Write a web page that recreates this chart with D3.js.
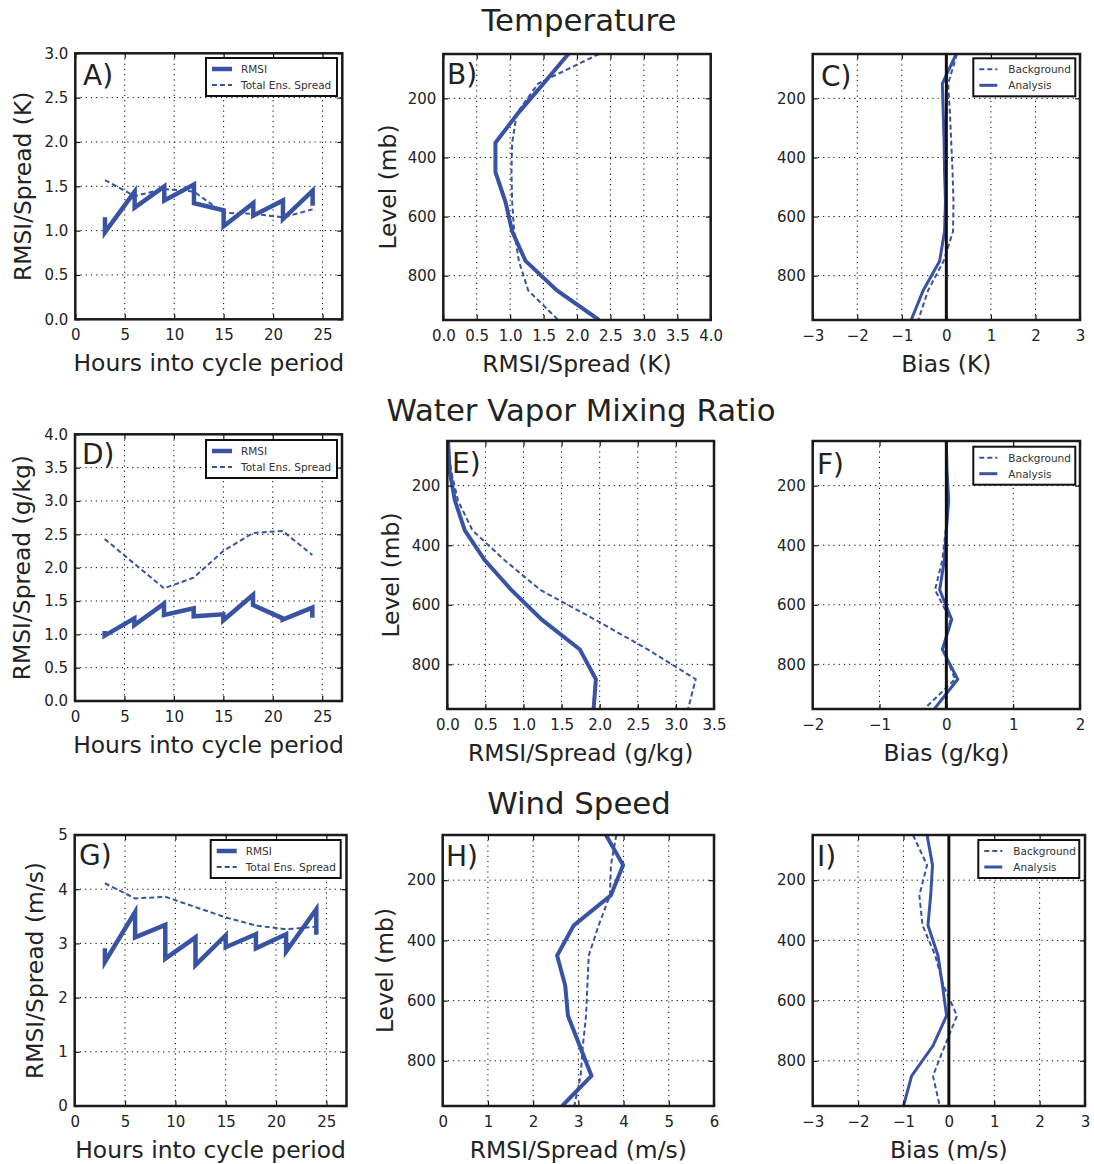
<!DOCTYPE html>
<html>
<head>
<meta charset="utf-8">
<script src="https://cdn.jsdelivr.net/npm/d3@7"></script>
<style>
  body { margin: 0; background: #fff; }
  svg { font-family: "DejaVu Sans", sans-serif; }
</style>
</head>
<body>
<svg id="fig" width="1094" height="1164"></svg>
<script>
// time series (hours into cycle), sawtooth: background then analysis at each time
const hours = [3, 3, 6, 6, 9, 9, 12, 12, 15, 15, 18, 18, 21, 21, 24, 24];
const spreadHours = [3, 6, 9, 12, 15, 18, 21, 24];

const tempRmsi = [1.15, 0.98, 1.44, 1.26, 1.50, 1.34, 1.52, 1.31, 1.23, 1.05, 1.31, 1.17, 1.34, 1.13, 1.45, 1.28];
const tempSpread = [1.57, 1.39, 1.47, 1.44, 1.20, 1.19, 1.15, 1.24];

const moistRmsi = [1.05, 0.98, 1.24, 1.14, 1.46, 1.29, 1.39, 1.27, 1.30, 1.21, 1.59, 1.44, 1.24, 1.22, 1.40, 1.25];
const moistSpread = [2.43, 2.06, 1.69, 1.85, 2.25, 2.52, 2.55, 2.19];

const windRmsi = [2.91, 2.66, 3.58, 3.11, 3.34, 2.72, 3.11, 2.60, 3.15, 2.93, 3.17, 2.91, 3.17, 2.85, 3.63, 3.16];
const windSpread = [4.11, 3.83, 3.86, 3.67, 3.48, 3.33, 3.26, 3.31];

// vertical profiles (mb)
const levels = [50, 150, 250, 350, 450, 550, 650, 750, 850, 950];

const tempProfRmsi = [1.87, 1.50, 1.12, 0.78, 0.78, 0.93, 1.03, 1.23, 1.70, 2.33];
const tempProfSpread = [2.33, 1.42, 1.10, 1.03, 1.02, 1.03, 1.06, 1.13, 1.27, 1.72];
const tempBiasBkg = [0.24, 0.04, 0.08, 0.11, 0.14, 0.16, 0.15, -0.06, -0.41, -0.63];
const tempBiasAnl = [0.22, -0.09, -0.07, -0.05, -0.04, -0.02, -0.04, -0.15, -0.52, -0.79];

const moistProfRmsi = [0.01, 0.03, 0.10, 0.23, 0.49, 0.84, 1.24, 1.74, 1.95, 1.92];
const moistProfSpread = [0.01, 0.05, 0.14, 0.33, 0.75, 1.22, 1.94, 2.63, 3.26, 3.16];
const moistBiasBkg = [0.0, 0.01, 0.03, -0.01, -0.06, -0.17, 0.06, -0.05, 0.13, -0.33];
const moistBiasAnl = [0.0, 0.01, 0.035, 0.0, -0.03, -0.10, 0.08, -0.06, 0.17, -0.18];

const windProfRmsi = [3.61, 3.99, 3.72, 2.90, 2.53, 2.71, 2.77, 3.03, 3.29, 2.64];
const windProfSpread = [3.84, 3.72, 3.70, 3.45, 3.23, 3.20, 3.17, 3.10, 3.05, 2.91];
const windBiasBkg = [-0.79, -0.48, -0.65, -0.58, -0.30, -0.12, 0.18, -0.09, -0.35, -0.20];
const windBiasAnl = [-0.48, -0.36, -0.40, -0.46, -0.24, -0.14, -0.05, -0.35, -0.82, -1.00];

const levelTicks = [200, 400, 600, 800];
const hourTicks = [0, 5, 10, 15, 20, 25];

const blue = "#3953a4";
const ink = "#222";
const svg = d3.select("#fig");

const titles = [
  { text: "Temperature", x: 579, y: 31 },
  { text: "Water Vapor Mixing Ratio", x: 581, y: 421 },
  { text: "Wind Speed", x: 579, y: 814 }
];
svg.selectAll("text.title").data(titles).join("text")
  .attr("class", "title")
  .attr("x", d => d.x).attr("y", d => d.y)
  .attr("text-anchor", "middle")
  .attr("font-size", 30.8).attr("fill", ink)
  .text(d => d.text);

let clipId = 0;

function drawPanel(p) {
  const x = d3.scaleLinear().domain(p.xDomain).range([p.left, p.right]);
  const y = p.profile
    ? d3.scaleLinear().domain([50, 950]).range([p.top, p.bottom])
    : d3.scaleLinear().domain(p.yDomain).range([p.bottom, p.top]);
  const g = svg.append("g");
  const w = p.right - p.left, h = p.bottom - p.top;

  // dotted grid
  g.append("g").selectAll("line").data(p.xTicks).join("line")
    .attr("x1", d => x(d)).attr("x2", d => x(d))
    .attr("y1", p.top).attr("y2", p.bottom)
    .attr("stroke", "#000").attr("stroke-width", 1).attr("stroke-dasharray", "1.2,4");
  g.append("g").selectAll("line").data(p.yTicks).join("line")
    .attr("y1", d => y(d)).attr("y2", d => y(d))
    .attr("x1", p.left).attr("x2", p.right)
    .attr("stroke", "#000").attr("stroke-width", 1).attr("stroke-dasharray", "1.2,4");

  // data lines
  const id = "clip" + (clipId++);
  g.append("clipPath").attr("id", id).append("rect")
    .attr("x", p.left).attr("y", p.top).attr("width", w).attr("height", h);
  const lines = g.append("g").attr("clip-path", `url(#${id})`);
  p.series.forEach(s => {
    const pts = s.xs.map((v, i) => [v, s.ys[i]]);
    const line = d3.line().x(d => x(p.profile ? d[1] : d[0])).y(d => y(p.profile ? d[0] : d[1]));
    lines.append("path")
      .attr("d", line(pts))
      .attr("fill", "none")
      .attr("stroke", blue)
      .attr("stroke-width", s.dashed ? 2 : s.width)
      .attr("stroke-dasharray", s.dashed ? "5,3" : null)
      .attr("stroke-linejoin", "miter");
  });
  if (p.zeroLine) {
    lines.append("line")
      .attr("x1", x(0)).attr("x2", x(0)).attr("y1", p.top).attr("y2", p.bottom)
      .attr("stroke", "#111").attr("stroke-width", 3);
  }

  // axes with inward ticks
  const styleAxis = sel => {
    sel.select(".domain").remove();
    sel.selectAll(".tick line").attr("stroke", "#111").attr("stroke-width", 1.2);
    sel.selectAll("text").attr("font-size", 15).attr("fill", ink)
      .attr("font-family", "DejaVu Sans, sans-serif");
  };
  g.append("g").attr("transform", `translate(0,${p.bottom})`)
    .call(d3.axisBottom(x).tickValues(p.xTicks).tickFormat(d3.format(p.xFmt))
      .tickSizeInner(-5).tickSizeOuter(0).tickPadding(10))
    .call(styleAxis);
  g.append("g").attr("transform", `translate(0,${p.top})`)
    .call(d3.axisTop(x).tickValues(p.xTicks).tickFormat("").tickSizeInner(-5).tickSizeOuter(0))
    .call(styleAxis);
  g.append("g").attr("transform", `translate(${p.left},0)`)
    .call(d3.axisLeft(y).tickValues(p.yTicks).tickFormat(d3.format(p.yFmt))
      .tickSizeInner(-5).tickSizeOuter(0).tickPadding(7))
    .call(styleAxis);
  g.append("g").attr("transform", `translate(${p.right},0)`)
    .call(d3.axisRight(y).tickValues(p.yTicks).tickFormat("").tickSizeInner(-5).tickSizeOuter(0))
    .call(styleAxis);

  // frame
  g.append("rect").attr("x", p.left).attr("y", p.top).attr("width", w).attr("height", h)
    .attr("fill", "none").attr("stroke", "#1a1a1a").attr("stroke-width", 2.5);

  // panel letter
  g.append("text").attr("x", p.letterX).attr("y", p.letterY)
    .attr("font-size", 28).attr("fill", ink).text(p.letter);

  // axis labels
  g.append("text").attr("x", (p.left + p.right) / 2).attr("y", p.bottom + 52)
    .attr("text-anchor", "middle").attr("font-size", 23.4).attr("fill", ink).text(p.xLabel);
  if (p.yLabel) {
    g.append("text")
      .attr("transform", `translate(${p.yLabelX},${(p.top + p.bottom) / 2}) rotate(-90)`)
      .attr("text-anchor", "middle").attr("font-size", 23.4).attr("fill", ink).text(p.yLabel);
  }

  // legend
  if (p.legend) {
    const L = p.legend;
    const lg = g.append("g");
    lg.append("rect").attr("x", L.x).attr("y", L.y).attr("width", L.w).attr("height", 38)
      .attr("fill", "#fff").attr("stroke", "#111").attr("stroke-width", 2);
    L.items.forEach((it, i) => {
      const yy = L.y + 11 + i * 16;
      lg.append("line").attr("x1", L.x + 6).attr("x2", L.x + L.lineLen + 6)
        .attr("y1", yy).attr("y2", yy)
        .attr("stroke", blue)
        .attr("stroke-width", it.dashed ? 2 : it.width)
        .attr("stroke-dasharray", it.dashed ? "5,3" : null);
      lg.append("text").attr("x", L.x + L.textOff).attr("y", yy + 3.8)
        .attr("font-size", 10.5).attr("fill", "#333").text(it.label);
    });
  }
}

const tsLegend = (x, y, w) => ({
  x, y, w, lineLen: 20, textOff: 35,
  items: [{ label: "RMSI", width: 4.5 }, { label: "Total Ens. Spread", dashed: true }]
});
const biasLegend = (x, y, w) => ({
  x, y, w, lineLen: 18, textOff: 35,
  items: [{ label: "Background", dashed: true }, { label: "Analysis", width: 3 }]
});

const panels = [
  { letter: "A)", left: 75.3, top: 53.3, right: 342.3, bottom: 319.3, letterX: 83, letterY: 85,
    xDomain: [0, 27], yDomain: [0, 3], xTicks: hourTicks, yTicks: d3.range(0, 3.01, 0.5),
    xFmt: "d", yFmt: ".1f", xLabel: "Hours into cycle period", yLabel: "RMSI/Spread (K)", yLabelX: 31,
    series: [{ xs: hours, ys: tempRmsi, width: 4.5 }, { xs: spreadHours, ys: tempSpread, dashed: true }],
    legend: tsLegend(206, 58, 131) },
  { letter: "B)", left: 443.3, top: 54, right: 710.7, bottom: 320, letterX: 447, letterY: 84, profile: true,
    xDomain: [0, 4], xTicks: d3.range(0, 4.01, 0.5), yTicks: levelTicks,
    xFmt: ".1f", yFmt: "d", xLabel: "RMSI/Spread (K)", yLabel: "Level (mb)", yLabelX: 396,
    series: [{ xs: levels, ys: tempProfRmsi, width: 4 }, { xs: levels, ys: tempProfSpread, dashed: true }] },
  { letter: "C)", left: 812.7, top: 54, right: 1080, bottom: 320, letterX: 821, letterY: 86, profile: true,
    xDomain: [-3, 3], xTicks: d3.range(-3, 3.01, 1), yTicks: levelTicks, zeroLine: true,
    xFmt: "d", yFmt: "d", xLabel: "Bias (K)",
    series: [{ xs: levels, ys: tempBiasBkg, dashed: true }, { xs: levels, ys: tempBiasAnl, width: 3 }],
    legend: biasLegend(973.3, 58.3, 102) },

  { letter: "D)", left: 75, top: 434.3, right: 342, bottom: 701, letterX: 82, letterY: 464,
    xDomain: [0, 27], yDomain: [0, 4], xTicks: hourTicks, yTicks: d3.range(0, 4.01, 0.5),
    xFmt: "d", yFmt: ".1f", xLabel: "Hours into cycle period", yLabel: "RMSI/Spread (g/kg)", yLabelX: 30,
    series: [{ xs: hours, ys: moistRmsi, width: 4.5 }, { xs: spreadHours, ys: moistSpread, dashed: true }],
    legend: tsLegend(206, 440, 131) },
  { letter: "E)", left: 447.3, top: 441, right: 714, bottom: 709, letterX: 452, letterY: 473, profile: true,
    xDomain: [0, 3.5], xTicks: d3.range(0, 3.51, 0.5), yTicks: levelTicks,
    xFmt: ".1f", yFmt: "d", xLabel: "RMSI/Spread (g/kg)", yLabel: "Level (mb)", yLabelX: 399,
    series: [{ xs: levels, ys: moistProfRmsi, width: 4 }, { xs: levels, ys: moistProfSpread, dashed: true }] },
  { letter: "F)", left: 812.7, top: 441, right: 1080, bottom: 709, letterX: 817, letterY: 474, profile: true,
    xDomain: [-2, 2], xTicks: d3.range(-2, 2.01, 1), yTicks: levelTicks, zeroLine: true,
    xFmt: "d", yFmt: "d", xLabel: "Bias (g/kg)",
    series: [{ xs: levels, ys: moistBiasBkg, dashed: true }, { xs: levels, ys: moistBiasAnl, width: 3 }],
    legend: biasLegend(973.3, 446.7, 102) },

  { letter: "G)", left: 74.7, top: 835, right: 346.5, bottom: 1106, letterX: 79, letterY: 865,
    xDomain: [0, 27], yDomain: [0, 5], xTicks: hourTicks, yTicks: d3.range(0, 5.01, 1),
    xFmt: "d", yFmt: "d", xLabel: "Hours into cycle period", yLabel: "RMSI/Spread (m/s)", yLabelX: 43,
    series: [{ xs: hours, ys: windRmsi, width: 4.5 }, { xs: spreadHours, ys: windSpread, dashed: true }],
    legend: tsLegend(210.7, 840, 130) },
  { letter: "H)", left: 442.7, top: 835, right: 714, bottom: 1106, letterX: 446, letterY: 866, profile: true,
    xDomain: [0, 6], xTicks: d3.range(0, 6.01, 1), yTicks: levelTicks,
    xFmt: "d", yFmt: "d", xLabel: "RMSI/Spread (m/s)", yLabel: "Level (mb)", yLabelX: 393,
    series: [{ xs: levels, ys: windProfRmsi, width: 4 }, { xs: levels, ys: windProfSpread, dashed: true }] },
  { letter: "I)", left: 812.7, top: 835, right: 1085, bottom: 1106, letterX: 817, letterY: 866, profile: true,
    xDomain: [-3, 3], xTicks: d3.range(-3, 3.01, 1), yTicks: levelTicks, zeroLine: true,
    xFmt: "d", yFmt: "d", xLabel: "Bias (m/s)",
    series: [{ xs: levels, ys: windBiasBkg, dashed: true }, { xs: levels, ys: windBiasAnl, width: 3 }],
    legend: biasLegend(978.3, 840, 101) }
];

panels.forEach(drawPanel);
</script>
</body>
</html>
